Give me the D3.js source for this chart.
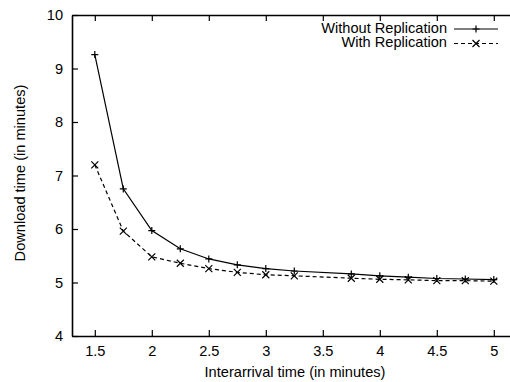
<!DOCTYPE html>
<html>
<head>
<meta charset="utf-8">
<script src="https://cdn.jsdelivr.net/npm/d3@7"></script>
<style>
	body { margin: 0; background: #fff; }
	svg { display: block; font-family: "Liberation Sans", Arial, sans-serif; }
	.axis path, .axis line { stroke: #000; }
	.axis text { fill: #000; font-size: 14.6px; }
</style>
</head>
<body>
<script>
// interarrival times (minutes)
const interarrival = [1.5, 1.75, 2, 2.25, 2.5, 2.75, 3, 3.25, 3.75, 4, 4.25, 4.5, 4.75, 5];
// download times (minutes)
const withoutReplication = [9.26, 6.75, 5.97, 5.63, 5.44, 5.33, 5.26, 5.215, 5.16, 5.125, 5.10, 5.075, 5.065, 5.055];
const withReplication = [7.2, 5.96, 5.48, 5.36, 5.26, 5.19, 5.145, 5.125, 5.08, 5.06, 5.05, 5.035, 5.035, 5.025];
const xTicks = [1.5, 2, 2.5, 3, 3.5, 4, 4.5, 5];
const yTicks = [4, 5, 6, 7, 8, 9, 10];

const width = 510, height = 382;
const plotLeft = 72, plotTop = 15, plotBottom = 336;

let svg = d3.select('body').append('svg')
	.attr('width', width)
	.attr('height', height);

let x = d3.scaleLinear().domain([1.3, 5.2]).range([plotLeft, plotLeft + 3.9 * 114]);
let y = d3.scaleLinear().domain([4, 10]).range([plotBottom, plotTop]);

// axes, ticks pointing inward like gnuplot
svg.append('g').attr('class', 'axis')
	.attr('transform', `translate(0,${plotBottom})`)
	.call(d3.axisBottom(x).tickValues(xTicks).tickFormat(d3.format('')).tickSizeInner(-6).tickSizeOuter(0).tickPadding(10));

svg.append('g').attr('class', 'axis')
	.attr('transform', `translate(0,${plotTop})`)
	.call(d3.axisTop(x).tickValues(xTicks).tickFormat('').tickSizeInner(-6).tickSizeOuter(0));

svg.append('g').attr('class', 'axis')
	.attr('transform', `translate(${plotLeft},0)`)
	.call(d3.axisLeft(y).tickValues(yTicks).tickFormat(d3.format('d')).tickSizeInner(-6).tickSizeOuter(0).tickPadding(9));

svg.selectAll('.axis path').attr('stroke-width', 1.6);
svg.selectAll('.axis line').attr('stroke-width', 1.2);

// axis titles
svg.append('text')
	.attr('x', 295).attr('y', 377)
	.attr('text-anchor', 'middle')
	.style('font-size', '14.6px')
	.text('Interarrival time (in minutes)');

svg.append('text')
	.attr('transform', 'translate(25,173) rotate(-90)')
	.attr('text-anchor', 'middle')
	.style('font-size', '14.6px')
	.text('Download time (in minutes)');

let line = d3.line().x(d => x(d[0])).y(d => y(d[1]));

let series = [
	{ name: 'Without Replication', values: withoutReplication, dash: null, marker: 'plus' },
	{ name: 'With Replication', values: withReplication, dash: '4,3', marker: 'cross' }
];

function drawMarker(g, type, cx, cy) {
	let s = 3.5;
	let p = type === 'plus'
		? `M${cx - s},${cy}H${cx + s}M${cx},${cy - s}V${cy + s}`
		: `M${cx - s},${cy - s}L${cx + s},${cy + s}M${cx - s},${cy + s}L${cx + s},${cy - s}`;
	g.append('path').attr('d', p).attr('stroke', '#000').attr('stroke-width', 1.2).attr('fill', 'none');
}

series.forEach((s, i) => {
	let pts = interarrival.map((t, j) => [t, s.values[j]]);
	let g = svg.append('g');
	g.append('path')
		.datum(pts)
		.attr('d', line)
		.attr('fill', 'none')
		.attr('stroke', '#000')
		.attr('stroke-width', 1.2)
		.attr('stroke-dasharray', s.dash);
	pts.forEach(p => drawMarker(g, s.marker, x(p[0]), y(p[1])));

	// legend entry
	let ly = 29 + i * 14.5;
	svg.append('text')
		.attr('x', 447).attr('y', ly + 3.5)
		.attr('text-anchor', 'end')
		.style('font-size', '14.6px')
		.text(s.name);
	g.append('line')
		.attr('x1', 454).attr('x2', 498)
		.attr('y1', ly).attr('y2', ly)
		.attr('stroke', '#000')
		.attr('stroke-width', 1.2)
		.attr('stroke-dasharray', s.dash);
	drawMarker(g, s.marker, 476, ly);
});
</script>
</body>
</html>
